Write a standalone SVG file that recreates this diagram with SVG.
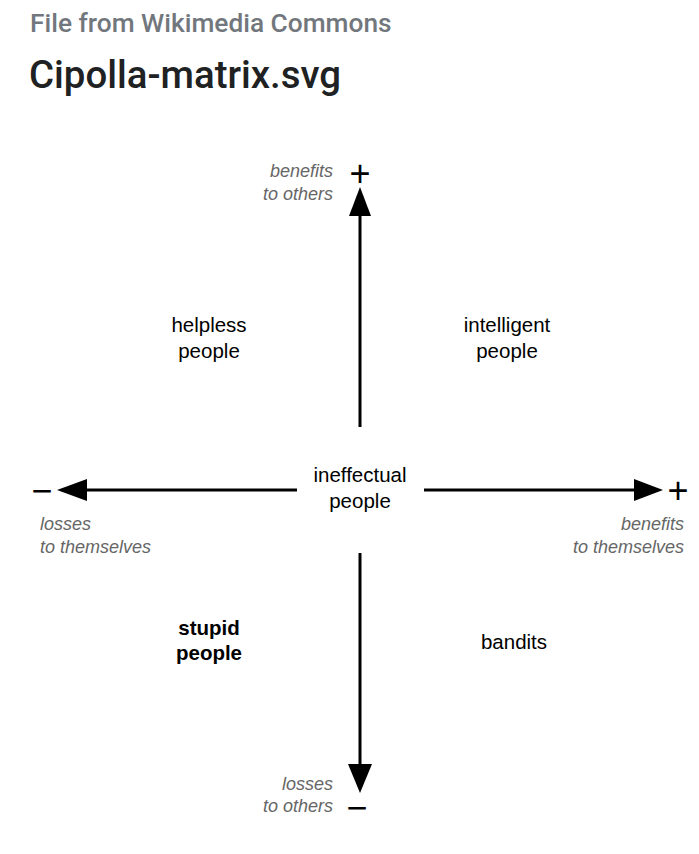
<svg xmlns="http://www.w3.org/2000/svg" width="699" height="854" viewBox="0 0 699 854">
<style>
.hdr{font-family:Roboto,"Liberation Sans",sans-serif;font-weight:500;}
.lbl{font-family:"Liberation Sans",Arial,sans-serif;font-size:20.5px;fill:#000;text-anchor:middle;}
.ax{font-family:"Liberation Sans",Arial,sans-serif;font-size:18px;font-style:italic;fill:#666;}
.sgn{font-family:"Liberation Sans",Arial,sans-serif;font-size:36px;fill:#000;text-anchor:middle;}
.line{stroke:#000;stroke-width:3;fill:none;}
.head{fill:#000;}
</style>
<rect width="699" height="854" fill="#fff"/>
<g id="header">
<text class="hdr" x="30" y="32" font-size="26.3" fill="#72777d">File from Wikimedia Commons</text>
<text class="hdr" x="29" y="88" font-size="38.4" fill="#202122">Cipolla-matrix.svg</text>
</g>
<g id="connectors">
<line class="line" x1="360" y1="427" x2="360" y2="212"/>
<polygon class="head" points="360,187 349,216 371,216"/>
<line class="line" x1="360" y1="553" x2="360" y2="768"/>
<polygon class="head" points="360,793 348,764 372,764"/>
<line class="line" x1="297" y1="490" x2="84" y2="490"/>
<polygon class="head" points="57,490 87,479 87,501"/>
<line class="line" x1="424" y1="490" x2="637" y2="490"/>
<polygon class="head" points="663,490 634,479 634,501"/>
</g>
<g id="axis-y-top">
<text class="ax" x="333" y="177" text-anchor="end">benefits</text>
<text class="ax" x="333" y="200" text-anchor="end">to others</text>
<text class="sgn" x="360" y="186">+</text>
</g>
<g id="axis-y-bottom">
<text class="ax" x="333" y="790" text-anchor="end">losses</text>
<text class="ax" x="333" y="812" text-anchor="end">to others</text>
<text class="sgn" x="357" y="820">−</text>
</g>
<g id="axis-x-left">
<text class="ax" x="40" y="530">losses</text>
<text class="ax" x="40" y="553">to themselves</text>
<text class="sgn" x="42" y="503">−</text>
</g>
<g id="axis-x-right">
<text class="ax" x="684" y="530" text-anchor="end">benefits</text>
<text class="ax" x="684" y="553" text-anchor="end">to themselves</text>
<text class="sgn" x="678" y="503">+</text>
</g>
<g id="helpless">
<text class="lbl" x="209" y="332">helpless</text>
<text class="lbl" x="209" y="358">people</text>
</g>
<g id="intelligent">
<text class="lbl" x="507" y="332">intelligent</text>
<text class="lbl" x="507" y="358">people</text>
</g>
<g id="ineffectual">
<text class="lbl" x="360" y="482">ineffectual</text>
<text class="lbl" x="360" y="508">people</text>
</g>
<g id="stupid">
<text class="lbl" x="209" y="635" font-weight="bold">stupid</text>
<text class="lbl" x="209" y="660" font-weight="bold">people</text>
</g>
<g id="bandits">
<text class="lbl" x="514" y="649">bandits</text>
</g>
</svg>
